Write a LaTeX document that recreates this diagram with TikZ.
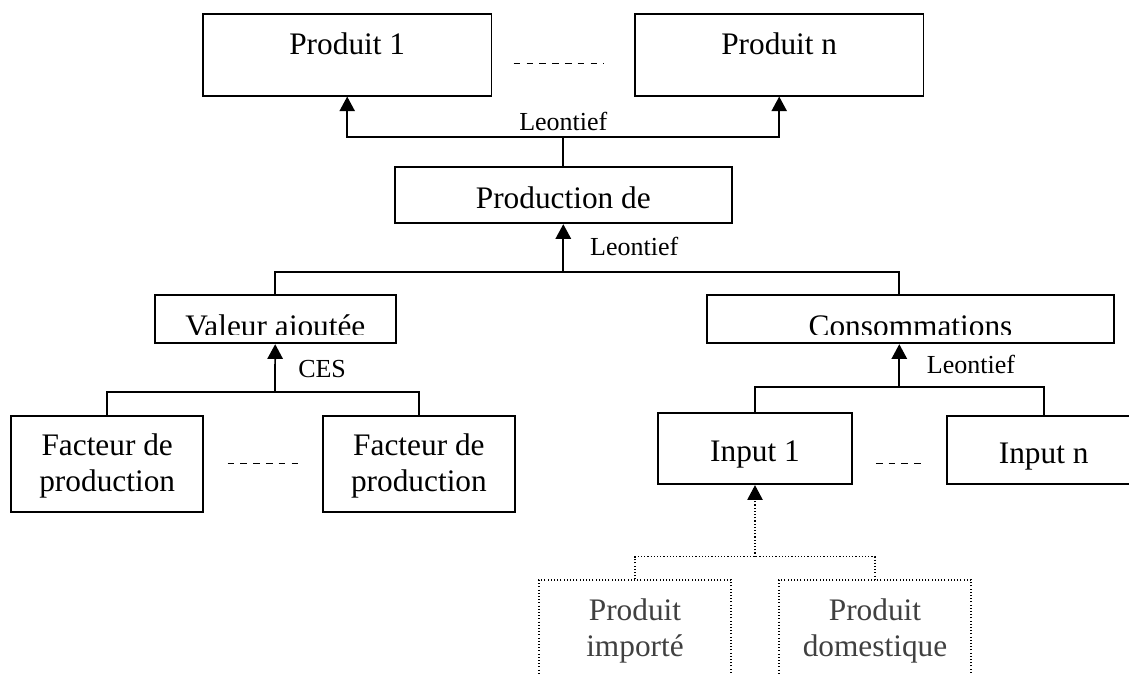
\documentclass[tikz,border=0pt]{standalone}
\usepackage{fontspec}
\setmainfont{Liberation Serif}
\usepackage{tikz}
\usetikzlibrary{positioning, arrows.meta, calc}

\begin{document}
\begin{tikzpicture}[x=0.75pt, y=-0.75pt, >={Triangle[length=11pt, width=11.5pt]}]
    % Define styles
    \tikzset{
        block/.style={draw, rectangle, align=center, inner sep=0pt, line width=1.3pt, font=\fontsize{23.5}{27.5}\selectfont},
        toptext/.style={text height=12pt, text depth=12pt},
        lowtext/.style={text height=20pt, text depth=0pt},
        twoline/.style={text height=47pt, text depth=5pt},
        dotbox/.style={block, line width=0.8pt, dash pattern=on 0.8pt off 1.6pt, text=softgray, text height=48pt, text depth=5pt},
        link/.style={line width=1.3pt},
        dotlink/.style={line width=0.8pt, dash pattern=on 0.8pt off 1.6pt},
        gap/.style={line width=1.1pt, dash pattern=on 5pt off 4.6pt},
        lbl/.style={inner sep=0pt, font=\fontsize{19.5}{22}\selectfont},
    }
    \definecolor{softgray}{RGB}{64,64,64}

    \clip (0,0) rectangle (1129,674);

    % Nodes
    \node[block, toptext, minimum width=216.5pt, minimum height=61.3pt] (p1) at (347.2,54.85) {Produit 1};
    \node[block, toptext, minimum width=216.5pt, minimum height=61.3pt] (pn) at (779.2,54.85) {Produit n};
    \node[block, lowtext, minimum width=252.5pt, minimum height=42pt] (prod) at (563.3,195.3) {Production de};

    \node[block, minimum width=180.5pt, minimum height=36.2pt] (va) at (275.3,319.2) {};
    \begin{scope}
        \clip ([yshift=7pt]va.south west) rectangle (va.north east);
        \node[block, draw=none, anchor=base] (vatext) at ([yshift=-12.6pt]va.center) {Valeur ajoutée};
    \end{scope}
    \node[block, minimum width=305.7pt, minimum height=36.2pt] (conso) at (910.5,319.2) {};
    \begin{scope}
        \clip ([yshift=7pt]conso.south west) rectangle (conso.north east);
        \node[block, draw=none, anchor=base] (consotext) at ([yshift=-12.6pt]conso.center) {Consommations};
    \end{scope}

    \node[block, twoline, minimum width=144.2pt, minimum height=72pt] (f1) at (107.2,463.7) {Facteur de\\production};
    \node[block, twoline, minimum width=144.2pt, minimum height=72pt] (f2) at (418.9,463.7) {Facteur de\\production};

    \node[block, lowtext, minimum width=145pt, minimum height=53.7pt] (i1) at (755,448.5) {Input 1};
    \node[block, lowtext, minimum width=145.5pt, minimum height=51.5pt] (in) at (1043.7,450) {Input n};

    \node[dotbox, minimum width=144pt, minimum height=72pt] (pi) at (635,628) {Produit\\importé};
    \node[dotbox, minimum width=144pt, minimum height=72pt] (pd) at (875,628) {Produit\\domestique};

    % Junctions
    \coordinate (j1) at (563.3,136.7);
    \coordinate (j2) at (563.3,271.7);
    \coordinate (j3) at (275,391.7);
    \coordinate (j4) at (899.3,387.3);
    \coordinate (j5) at (755,556.7);

    % Arrows connecting the nodes
    \draw[link] (prod) -- (j1);
    \draw[link, ->] (j1) -| (p1);
    \draw[link, ->] (j1) -| (pn);
    \draw[link, ->] (j2) -- (prod);
    \draw[link] (va) |- (j2) -| (j4 |- conso.north);
    \draw[link, ->] (j3) -- (va);
    \draw[link] (f1) |- (j3) -| (f2);
    \draw[link, ->] (j4) -- (j4 |- conso.south);
    \draw[link] (i1) |- (j4) -| (in);
    \draw[dotlink, ->] (j5) -- (i1);
    \draw[dotlink] (pi) |- (j5) -| (pd);

    % Labels
    \node[lbl, anchor=base] (lab1) at ([yshift=5pt]j1) {Leontief};
    \node[lbl, anchor=base west] (lab2) at ([xshift=20pt, yshift=12.5pt]j2) {Leontief};
    \node[lbl, anchor=base west] (lab3) at ([xshift=17.25pt, yshift=10.8pt]j3) {CES};
    \node[lbl, anchor=base west] (lab4) at ([xshift=20.5pt, yshift=10pt]j4) {Leontief};

    % Dashes between boxes
    \draw[gap, shorten <=16pt, shorten >=22.5pt] ([yshift=-6.3pt]p1.east) -- ([yshift=-6.3pt]pn.west);
    \draw[gap, shorten <=17.5pt, shorten >=17pt] (f1.east) -- (f2.west);
    \draw[gap, shorten <=17.5pt, shorten >=17.5pt] ([yshift=-11.1pt]i1.east) -- ([yshift=-11.1pt]i1.east -| in.west);
\end{tikzpicture}
\end{document}
